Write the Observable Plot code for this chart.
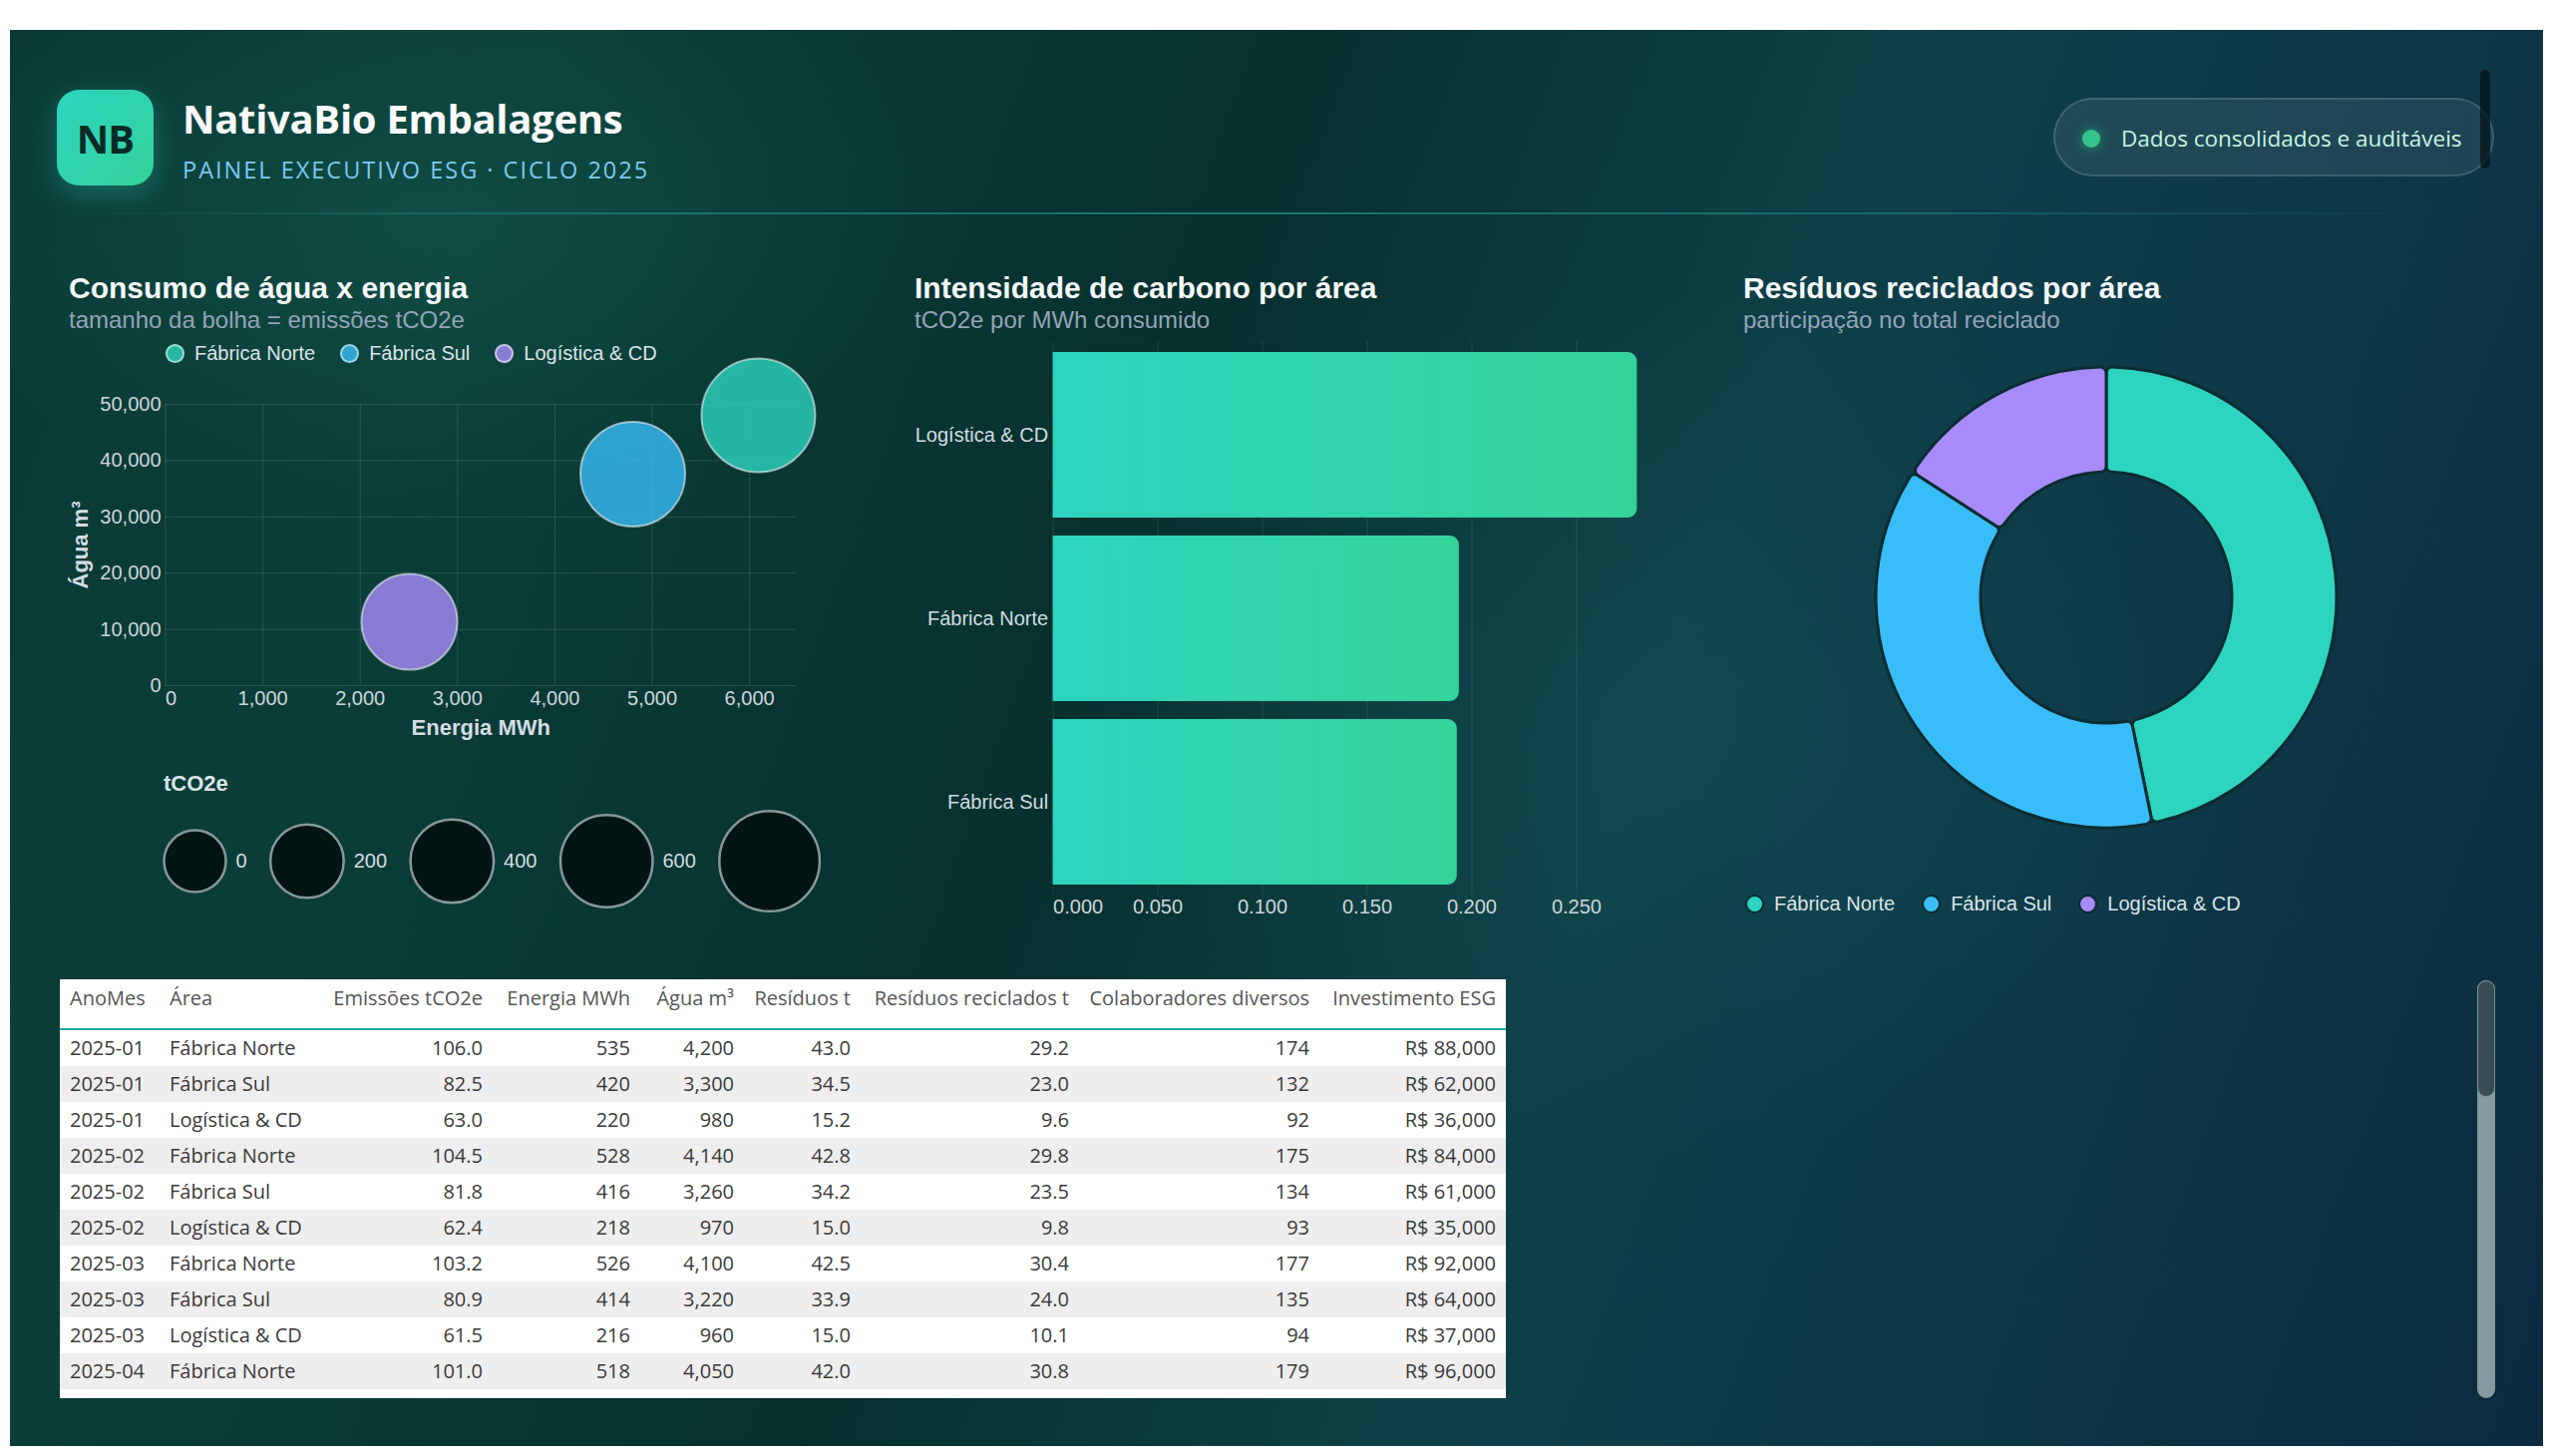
<!DOCTYPE html>
<html lang="pt-BR">
<head>
<meta charset="utf-8">
<title>NativaBio Embalagens · Painel Executivo ESG</title>
<script src="https://cdn.jsdelivr.net/npm/d3@7"></script>
<script src="https://cdn.jsdelivr.net/npm/@observablehq/plot@0.6"></script>
<style>
  html, body { margin: 0; padding: 0; background: #ffffff; width: 2560px; height: 1460px; overflow: hidden; }
  body { position: relative; font-family: 'Liberation Sans', Arial, sans-serif; }
  .abs { position: absolute; }
  #panel {
    left: 10px; top: 30px; width: 2540px; height: 1420px;
    background:
      radial-gradient(ellipse 760px 420px at 420px 190px, rgba(24,104,90,0.35), transparent 70%),
      radial-gradient(ellipse 820px 620px at 1660px 700px, rgba(26,92,98,0.32), transparent 70%),
      linear-gradient(110deg, #0a3934 0%, #0b3e38 18%, #06302e 43%, #0e4047 62%, #0d3848 78%, #0b2a3f 100%);
  }
  #logo {
    left: 57px; top: 90px; width: 97px; height: 96px; border-radius: 22px;
    background: linear-gradient(135deg, #2dd4bf 0%, #34d399 100%);
    box-shadow: 0 8px 28px rgba(45,212,191,0.30);
    display: flex; align-items: center; justify-content: center;
    font: 700 40px 'Open Sans', sans-serif; color: #062b25; letter-spacing: -1px;
  }
  #brand { left: 183px; top: 99px; font: 700 40px/1 'Open Sans', sans-serif; color: #f8fafc; letter-spacing: -0.3px; white-space: nowrap; }
  #tagline { left: 183px; top: 159px; font: 400 23.5px/1 'Open Sans', sans-serif; color: #7cc9f0; letter-spacing: 2px; white-space: nowrap; }
  #divider { left: 60px; top: 213px; width: 2380px; height: 2px;
    background: linear-gradient(90deg, rgba(45,212,191,0) 0%, rgba(45,212,191,0.32) 25%, rgba(45,212,191,0.45) 50%, rgba(45,212,191,0.25) 80%, rgba(45,212,191,0) 100%); }
  #badge { left: 2059px; top: 98px; width: 442px; height: 79px; box-sizing: border-box; border-radius: 40px;
    background: rgba(255,255,255,0.075); border: 2px solid rgba(255,255,255,0.14); }
  #badgeDot { left: 2088px; top: 130px; width: 18px; height: 18px; border-radius: 50%; background: #34c48c; box-shadow: 0 0 12px rgba(52,211,153,0.55); }
  #badgeText { left: 2127px; top: 124px; font: 400 22.5px/30px 'Open Sans', sans-serif; color: #c6f5e2; white-space: nowrap; }
  #topBar { left: 2487px; top: 70px; width: 10px; height: 99px; border-radius: 5px; background: rgba(4,18,20,0.72); }
  .ctitle { font: 700 30px/1 'Liberation Sans', Arial, sans-serif; color: #f5f8fa; white-space: nowrap; top: 274px; }
  .csub { font: 400 24px/1 'Liberation Sans', Arial, sans-serif; color: #94a3b8; white-space: nowrap; top: 309px; }
  .legend { display: flex; align-items: center; height: 24px; font: 400 20px/24px 'Liberation Sans', Arial, sans-serif; color: #dbe3e8; white-space: nowrap; }
  .legend .item { display: flex; align-items: center; }
  .legend .sw { width: 19px; height: 19px; border-radius: 50%; box-sizing: border-box; margin-right: 10px; }
  #sizeTitle { left: 164px; top: 775px; font: 700 22px/1 'Liberation Sans', Arial, sans-serif; color: #dbe3e8; }
  #tableBox { left: 60px; top: 982px; width: 1450px; height: 420px; background: #ffffff; overflow: hidden; }
  #tableBox table { border-collapse: separate; border-spacing: 0; table-layout: fixed; width: 1450px;
    font: 400 20px 'Open Sans', sans-serif; }
  #tableBox th { height: 51px; box-sizing: border-box; vertical-align: top; padding: 7px 10px 0 10px; line-height: 24px;
    font-weight: 400; color: #555555; border-bottom: 2px solid #16ac9d; white-space: nowrap; }
  #tableBox td { height: 36px; line-height: 36px; padding: 0 10px; color: #3a3a3a; white-space: nowrap; }
  #tableBox tbody tr:nth-child(even) td { background: #eeeeee; }
  #tableBox .l { text-align: left; }
  #tableBox .r { text-align: right; }
  #scrollTrack { left: 2484px; top: 983px; width: 18px; height: 419px; border-radius: 9px; background: #869aa1; }
  #scrollThumb { left: 2484px; top: 983px; width: 18px; height: 117px; border-radius: 9px; box-sizing: border-box;
    background: #3b4d54; border: 1.5px solid #7d9197; }
</style>
</head>
<body>
<div id="panel" class="abs"></div>

<div id="logo" class="abs">NB</div>
<div id="brand" class="abs">NativaBio Embalagens</div>
<div id="tagline" class="abs">PAINEL EXECUTIVO ESG · CICLO 2025</div>
<div id="divider" class="abs"></div>
<div id="badge" class="abs"></div>
<div id="badgeDot" class="abs"></div>
<div id="badgeText" class="abs">Dados consolidados e auditáveis</div>
<div id="topBar" class="abs"></div>

<div class="abs ctitle" style="left:69px">Consumo de água x energia</div>
<div class="abs csub" style="left:69px">tamanho da bolha = emissões tCO2e</div>
<div class="abs ctitle" style="left:917px">Intensidade de carbono por área</div>
<div class="abs csub" style="left:917px">tCO2e por MWh consumido</div>
<div class="abs ctitle" style="left:1748px">Resíduos reciclados por área</div>
<div class="abs csub" style="left:1748px">participação no total reciclado</div>

<div id="scatterLegend" class="abs legend" style="left:166px; top:342px"></div>
<div id="sizeTitle" class="abs">tCO2e</div>
<div id="donutLegend" class="abs legend" style="left:1750px; top:894px"></div>

<div id="tableBox" class="abs"></div>
<div id="scrollTrack" class="abs"></div>
<div id="scrollThumb" class="abs"></div>

<script>
// ---- Áreas e cores ----
const areas = ["Fábrica Norte", "Fábrica Sul", "Logística & CD"];
const areaColors = ["#2dd4bf", "#38bdf8", "#a78bfa"];

// ---- Totais anuais por área (bolhas) ----
const energyMWh = [6090, 4800, 2505];
const waterM3 = [48050, 37600, 11350];
const emissionsT = [1167, 916, 685];

// ---- Intensidade de carbono (tCO2e por MWh) ----
const intensityAreas = ["Logística & CD", "Fábrica Norte", "Fábrica Sul"];
const intensityValues = [0.279, 0.194, 0.193];

// ---- Resíduos reciclados (t) ----
const recycledT = [372, 297, 126];

// ---- Ticks e legenda de tamanho ----
const energyTicks = [0, 1000, 2000, 3000, 4000, 5000, 6000];
const waterTicks = [0, 10000, 20000, 30000, 40000, 50000];
const intensityTicks = [0, 0.05, 0.1, 0.15, 0.2, 0.25];
const sizeLegendValues = [0, 200, 400, 600, 800];
const sizeLegendLabels = ["0", "200", "400", "600", ""];

// ---- Tabela mensal ----
const tMonth = ["2025-01", "2025-01", "2025-01", "2025-02", "2025-02", "2025-02", "2025-03", "2025-03", "2025-03", "2025-04"];
const tArea = ["Fábrica Norte", "Fábrica Sul", "Logística & CD", "Fábrica Norte", "Fábrica Sul", "Logística & CD", "Fábrica Norte", "Fábrica Sul", "Logística & CD", "Fábrica Norte"];
const tEmissions = [106.0, 82.5, 63.0, 104.5, 81.8, 62.4, 103.2, 80.9, 61.5, 101.0];
const tEnergy = [535, 420, 220, 528, 416, 218, 526, 414, 216, 518];
const tWater = [4200, 3300, 980, 4140, 3260, 970, 4100, 3220, 960, 4050];
const tWaste = [43.0, 34.5, 15.2, 42.8, 34.2, 15.0, 42.5, 33.9, 15.0, 42.0];
const tRecycled = [29.2, 23.0, 9.6, 29.8, 23.5, 9.8, 30.4, 24.0, 10.1, 30.8];
const tDiverse = [174, 132, 92, 175, 134, 93, 177, 135, 94, 179];
const tInvest = [88000, 62000, 36000, 84000, 61000, 35000, 92000, 64000, 37000, 96000];
const tableHeaders = ["AnoMes", "Área", "Emissões tCO2e", "Energia MWh", "Água m³", "Resíduos t", "Resíduos reciclados t", "Colaboradores diversos", "Investimento ESG"];

// ---------------------------------------------------------------
const chartStyle = {
  background: "transparent",
  color: "#cdd5db",
  fontFamily: "'Liberation Sans', Arial, sans-serif",
  fontSize: "20px",
  overflow: "visible"
};
const thousands = d3.format(",");
const threeDecimals = d3.format(".3f");

function place(node, left, top) {
  node.style.position = "absolute";
  node.style.left = left + "px";
  node.style.top = top + "px";
  document.body.appendChild(node);
  return node;
}

// Escala de raio: área da bolha proporcional a (emissões + piso)
const rScaleOptions = {type: "sqrt", transform: v => v + 490, domain: [0, 1290], range: [0, 50.3]};
const colorOptions = {domain: areas, range: areaColors};

// ---- Bolhas: água x energia ----
const bubbles = areas.map((a, i) => ({area: a, energy: energyMWh[i], water: waterM3[i], emissions: emissionsT[i]}));
const gridStyle = {stroke: "#ffffff", strokeOpacity: 0.13};

const scatter = Plot.plot({
  width: 780, height: 420,
  marginLeft: 105.5, marginRight: 42, marginTop: 65, marginBottom: 73,
  style: chartStyle,
  x: {domain: [0, 6480], label: null},
  y: {domain: [0, 50000], label: null},
  r: rScaleOptions,
  color: colorOptions,
  marks: [
    Plot.gridX(energyTicks, gridStyle),
    Plot.gridY(waterTicks, gridStyle),
    Plot.axisX([0], {tickSize: 0, tickPadding: 5, textAnchor: "start", tickFormat: thousands, label: null}),
    Plot.axisX(energyTicks.slice(1), {tickSize: 0, tickPadding: 5, tickFormat: thousands, label: null}),
    Plot.axisY(waterTicks, {tickSize: 0, tickPadding: 4.5, tickFormat: thousands, label: null}),
    Plot.text(["Energia MWh"], {frameAnchor: "bottom", lineAnchor: "middle", dy: 42, fontWeight: "bold", fontSize: 22, fill: "#d5dce2"}),
    Plot.text(["Água m³"], {frameAnchor: "left", textAnchor: "middle", lineAnchor: "middle", rotate: -90, dx: -85.5, fontWeight: "bold", fontSize: 22, fill: "#d5dce2"}),
    Plot.dot(bubbles, {x: "energy", y: "water", r: "emissions", fill: "area", fillOpacity: 0.8,
      stroke: "#ffffff", strokeOpacity: 0.55, strokeWidth: 2})
  ]
});
place(scatter, 60, 340);

// Legenda de cores (bolhas)
const scatterLegend = d3.select("#scatterLegend");
areas.forEach((a, i) => {
  const item = scatterLegend.append("div").attr("class", "item").style("margin-right", i < areas.length - 1 ? "25px" : "0");
  const c = d3.color(areaColors[i]); c.opacity = 0.8;
  item.append("div").attr("class", "sw").style("background", c.formatRgb()).style("border", "2px solid rgba(255,255,255,0.55)");
  item.append("span").text(a);
});

// ---- Legenda de tamanho (tCO2e) ----
const rScale = Plot.scale({r: rScaleOptions});
const rAt = v => rScale.apply(rScale.transform ? rScale.transform(v) : v + 490);
const sizeRows = [];
{
  let cursor = 24;
  sizeLegendValues.forEach((v, i) => {
    const r = rAt(v);
    const cx = cursor + r;
    const lx = cx + r + 10;
    sizeRows.push({value: v, label: sizeLegendLabels[i], cx, lx});
    cursor = lx + sizeLegendLabels[i].length * 11.12 + 23.5;
  });
}
const sizeLegend = Plot.plot({
  width: 720, height: 150, margin: 0,
  style: chartStyle,
  x: {type: "identity", axis: null}, y: {type: "identity", axis: null},
  r: rScaleOptions,
  marks: [
    Plot.dot(sizeRows, {x: "cx", y: 73, r: "value", fill: "#031512", stroke: "#86979a", strokeWidth: 2.5}),
    Plot.text(sizeRows.filter(d => d.label), {x: "lx", y: 73, text: "label", textAnchor: "start", fontSize: 20, fill: "#d5dde2"})
  ]
});
place(sizeLegend, 140, 790);

// ---- Barras: intensidade de carbono ----
const intensityRows = intensityAreas.map((a, i) => ({area: a, value: intensityValues[i]}));
const bars = Plot.plot({
  width: 800, height: 610,
  marginLeft: 155.6, marginRight: 58.7, marginTop: 12, marginBottom: 43.4,
  style: chartStyle,
  x: {domain: [0, d3.max(intensityValues)], label: null},
  y: {domain: intensityAreas, paddingInner: 0.1, paddingOuter: 0.05, label: null},
  marks: [
    Plot.gridX(intensityTicks, {stroke: "#ffffff", strokeOpacity: 0.1}),
    Plot.barX(intensityRows, {x: "value", y: "area", fill: "url(#intensityFill)", rx2: 9}),
    Plot.axisY({tickSize: 0, tickPadding: 5, label: null, fill: "#d3dbe0"}),
    Plot.axisX([0], {tickSize: 0, tickPadding: 5, textAnchor: "start", tickFormat: threeDecimals, label: null}),
    Plot.axisX(intensityTicks.slice(1), {tickSize: 0, tickPadding: 5, tickFormat: threeDecimals, label: null})
  ]
});
{
  const grad = d3.select(bars).insert("defs", ":first-child")
    .append("linearGradient").attr("id", "intensityFill")
    .attr("x1", 0).attr("x2", 1).attr("y1", 0).attr("y2", 0);
  grad.append("stop").attr("offset", "0%").attr("stop-color", "#2dd4bf");
  grad.append("stop").attr("offset", "100%").attr("stop-color", "#34d399");
}
place(bars, 900, 330);

// ---- Rosca: resíduos reciclados ----
const recycledRows = areas.map((a, i) => ({area: a, recycled: recycledT[i]}));
const donut = Plot.plot({
  width: 504, height: 498, margin: 0,
  style: chartStyle,
  x: {domain: [-1, 1], axis: null},
  y: {domain: [-1, 1], axis: null},
  color: colorOptions,
  marks: [
    Plot.dot(recycledRows, {
      x: 0, y: 0, fill: "area",
      render: (index, scales, values) => {
        const cx = scales.x(0), cy = scales.y(0);
        const slices = d3.pie().sort(null).value(d => d.recycled)(recycledRows);
        const arc = d3.arc().innerRadius(126).outerRadius(231).cornerRadius(6);
        const g = d3.create("svg:g").attr("transform", `translate(${cx},${cy})`);
        g.selectAll("path").data(slices).join("path")
          .attr("d", arc)
          .attr("fill", (d, i) => values.fill[i])
          .attr("stroke", "#0b2c31")
          .attr("stroke-width", 3)
          .attr("stroke-linejoin", "round");
        return g.node();
      }
    })
  ]
});
place(donut, 1860, 350);

const donutLegend = d3.select("#donutLegend");
areas.forEach((a, i) => {
  const item = donutLegend.append("div").attr("class", "item").style("margin-right", i < areas.length - 1 ? "27px" : "0");
  item.append("div").attr("class", "sw").style("background", areaColors[i]).style("border", "2px solid #0b2c31");
  item.append("span").text(a);
});

// ---- Tabela ----
const f1 = d3.format(".1f");
const colWidths = [100, 163, 171, 148, 104, 117, 219, 241, 187];
const colAlign = ["l", "l", "r", "r", "r", "r", "r", "r", "r"];
const table = d3.select("#tableBox").append("table");
const cg = table.append("colgroup");
colWidths.forEach(w => cg.append("col").style("width", w + "px"));
table.append("thead").append("tr").selectAll("th").data(tableHeaders).join("th")
  .attr("class", (d, i) => colAlign[i]).text(d => d);
const rows = tMonth.map((m, i) => [
  m, tArea[i], f1(tEmissions[i]), thousands(tEnergy[i]), thousands(tWater[i]), f1(tWaste[i]),
  f1(tRecycled[i]), String(tDiverse[i]), "R$ " + thousands(tInvest[i])
]);
table.append("tbody").selectAll("tr").data(rows).join("tr")
  .selectAll("td").data(d => d).join("td")
  .attr("class", (d, i) => colAlign[i]).text(d => d);
</script>
</body>
</html>
